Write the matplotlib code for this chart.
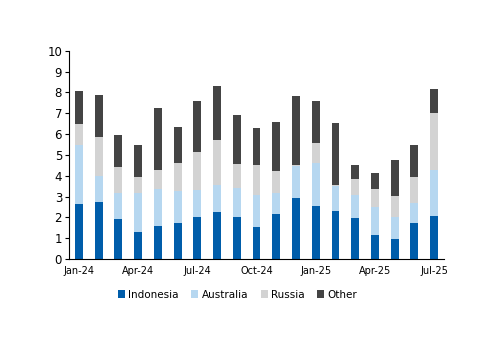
import matplotlib.pyplot as plt
import numpy as np

months = ["Jan-24", "Feb-24", "Mar-24", "Apr-24", "May-24", "Jun-24", "Jul-24",
          "Aug-24", "Sep-24", "Oct-24", "Nov-24", "Dec-24", "Jan-25", "Feb-25",
          "Mar-25", "Apr-25", "May-25", "Jun-25", "Jul-25"]

indonesia = [2.65, 2.72, 1.93, 1.29, 1.58, 1.73, 2.01, 2.25, 2.04, 1.55,
             2.17, 2.92, 2.56, 2.33, 1.96, 1.18, 0.96, 1.73, 2.08]
australia = [2.83, 1.29, 1.23, 1.87, 1.77, 1.54, 1.31, 1.31, 1.39, 1.52,
             1.02, 1.55, 2.04, 1.18, 1.12, 1.33, 1.07, 0.94, 2.20]
russia = [1.02, 1.87, 1.28, 0.77, 0.92, 1.36, 1.81, 2.16, 1.12, 1.47,
          1.04, 0.05, 0.99, 0.05, 0.75, 0.84, 1.02, 1.26, 2.75]
other = [1.55, 1.98, 1.50, 1.53, 3.00, 1.70, 2.47, 2.59, 2.37, 1.74,
         2.35, 3.31, 2.01, 2.99, 0.67, 0.77, 1.69, 1.53, 1.16]

series = [("Indonesia", indonesia, "#005DAA"),
          ("Australia", australia, "#B6D7F0"),
          ("Russia", russia, "#D3D3D3"),
          ("Other", other, "#444444")]

fig = plt.figure(figsize=(5, 3.53), dpi=100)
ax = fig.add_axes([0.138, 0.266, 0.75, 0.59])

x = np.arange(len(months))
bottom = np.zeros(len(months))
for name, vals, color in series:
    ax.bar(x, vals, width=0.4, bottom=bottom, color=color, label=name)
    bottom += np.array(vals)

ax.set_xlim(-0.5, len(months) - 0.5)
ax.set_ylim(0, 10)
ax.set_yticks(range(0, 11))
ax.tick_params(axis='y', labelsize=8.5, length=3, direction='out', pad=2)
ax.set_xticks(x[::3])
ax.set_xticklabels(months[::3])
ax.tick_params(axis='x', labelsize=7, length=0, pad=5)

ax.spines['top'].set_visible(False)
ax.spines['right'].set_visible(False)

fig.legend(loc='center', bbox_to_anchor=(0.475, 0.165), ncol=4, frameon=False,
           fontsize=7.5, handlelength=0.7, handleheight=0.7, handletextpad=0.3,
           columnspacing=1.2)

fig.savefig("out.png", dpi=100)
